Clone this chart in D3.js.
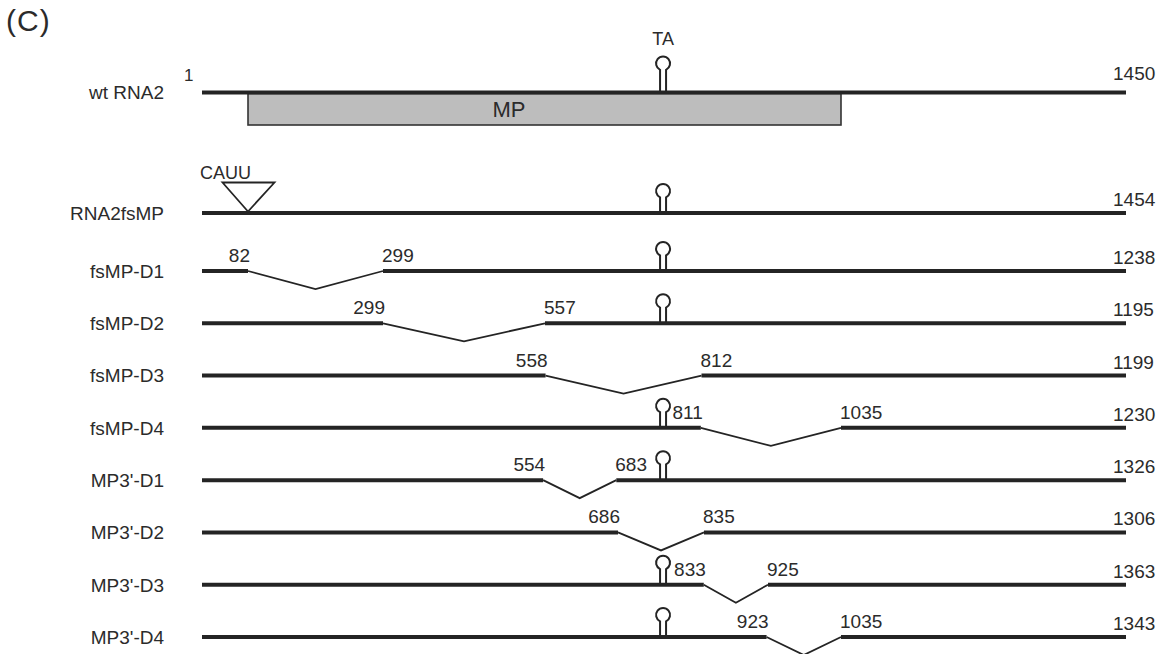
<!DOCTYPE html>
<html>
<head>
<meta charset="utf-8">
<script src="https://cdn.jsdelivr.net/npm/d3@7"></script>
<style>
  html, body { margin: 0; padding: 0; background: #fff; }
  svg { display: block; }
  text { font-family: "Liberation Sans", Arial, Helvetica, sans-serif; fill: #2b2b2b; }
</style>
</head>
<body>
<svg id="chart" width="1168" height="654"></svg>
<script>
// ---------------- data ----------------
const constructs = ["wt RNA2", "RNA2fsMP", "fsMP-D1", "fsMP-D2", "fsMP-D3", "fsMP-D4",
                    "MP3'-D1", "MP3'-D2", "MP3'-D3", "MP3'-D4"];
const lengths    = [1450, 1454, 1238, 1195, 1199, 1230, 1326, 1306, 1363, 1343];
const delStart   = [null, null, 82, 299, 558, 811, 554, 686, 833, 923];
const delEnd     = [null, null, 299, 557, 812, 1035, 683, 835, 925, 1035];
const hasStemLoop = [true, true, true, true, false, true, true, false, true, true];
const stemLoopPos = 754;          // TA stem-loop position (nt)
const mpOrf = [82, 1035];         // MP open reading frame
const insertPos = 82;             // CAUU insertion in RNA2fsMP
const insertSeq = "CAUU";
const firstNt = 1;
const trackEndNt = 1497;          // all tracks drawn to the same right end
// the schematic is not drawn strictly to scale: anchor points of the map
const mapNt = [1, 82, 299, 557, 686, 812, 835, 925, 1035, 1497];

// ---------------- layout ----------------
const svg = d3.select("#chart");
const x = d3.scaleLinear()
  .domain(mapNt)
  .range([202, 248, 383, 545, 618, 701.5, 704, 768, 841, 1126]);

const yTop = { "wt RNA2": 92.5, "RNA2fsMP": 213 };
const yRows = d3.scalePoint().domain(constructs.slice(2)).range([271, 637]);
const y = name => (name in yTop ? yTop[name] : yRows(name));

const lineColor = "#242424";
const numFont = 19;

// panel letter
svg.append("text").attr("x", 6).attr("y", 31)
  .style("font-size", "30px").style("letter-spacing", "1px").text("(C)");

// MP box (wt only)
svg.append("rect")
  .attr("x", x(mpOrf[0])).attr("y", y("wt RNA2") + 1)
  .attr("width", x(mpOrf[1]) - x(mpOrf[0])).attr("height", 31.5)
  .attr("fill", "#bdbdbd").attr("stroke", "#333").attr("stroke-width", 1.6);
svg.append("text").attr("x", 509).attr("y", 117)
  .attr("text-anchor", "middle").style("font-size", "22px").text("MP");

// rows
const rows = constructs.map((name, i) => ({
  name, len: lengths[i], ds: delStart[i], de: delEnd[i], sl: hasStemLoop[i], i
}));

const g = svg.selectAll("g.row").data(rows).join("g").attr("class", "row");

// left labels
g.append("text")
  .attr("x", 164).attr("y", d => y(d.name) + 6.8)
  .attr("text-anchor", "end").style("font-size", "19px")
  .text(d => d.name);

// right length labels
g.append("text")
  .attr("x", 1113).attr("y", d => y(d.name) - (d.i === 0 ? 13 : 7))
  .style("font-size", numFont + "px")
  .text(d => d.len);

// stem loops
g.filter(d => d.sl).each(function(d) {
  const yy = y(d.name);
  const big = d.i === 0;
  const cy = yy - (big ? 29 : 22);
  const r = 7, dx = 3;
  const yb = cy + Math.sqrt(r * r - dx * dx);
  const sx = x(stemLoopPos);
  d3.select(this).append("path")
    .attr("d", `M${sx - dx},${yy} L${sx - dx},${yb} A${r},${r} 0 1 1 ${sx + dx},${yb} L${sx + dx},${yy}`)
    .attr("fill", "#fff").attr("stroke", lineColor).attr("stroke-width", 2);
});

// tracks
g.each(function(d) {
  const sel = d3.select(this);
  const yy = y(d.name);
  if (d.ds == null) {
    sel.append("line")
      .attr("x1", x(firstNt)).attr("x2", x(trackEndNt))
      .attr("y1", yy).attr("y2", yy)
      .attr("stroke", lineColor).attr("stroke-width", 4);
  } else {
    sel.append("line")
      .attr("x1", x(firstNt)).attr("x2", x(d.ds))
      .attr("y1", yy).attr("y2", yy)
      .attr("stroke", lineColor).attr("stroke-width", 4);
    sel.append("line")
      .attr("x1", x(d.de)).attr("x2", x(trackEndNt))
      .attr("y1", yy).attr("y2", yy)
      .attr("stroke", lineColor).attr("stroke-width", 4);
    const xm = (x(d.ds) + x(d.de)) / 2;
    sel.append("path")
      .attr("d", `M${x(d.ds)},${yy} L${xm},${yy + 18} L${x(d.de)},${yy}`)
      .attr("fill", "none").attr("stroke", lineColor).attr("stroke-width", 1.8)
      .attr("stroke-linejoin", "miter");
    sel.append("text")
      .attr("x", x(d.ds) + 2).attr("y", yy - 9)
      .attr("text-anchor", "end").style("font-size", numFont + "px")
      .text(d.ds);
    sel.append("text")
      .attr("x", x(d.de) - 1).attr("y", yy - 9)
      .style("font-size", numFont + "px")
      .text(d.de);
  }
});

// "1" start label on wt
svg.append("text").attr("x", 184).attr("y", 81)
  .style("font-size", "17px").text(firstNt);

// TA label
svg.append("text").attr("x", x(stemLoopPos)).attr("y", 45)
  .attr("text-anchor", "middle").style("font-size", "18px").text("TA");

// CAUU insertion triangle
const yi = y("RNA2fsMP");
const xi = x(insertPos);
svg.append("path")
  .attr("d", `M${xi},${yi - 1.5} L${xi - 25.5},${yi - 30.5} L${xi + 26.5},${yi - 30.5} Z`)
  .attr("fill", "#fff").attr("stroke", lineColor).attr("stroke-width", 1.8)
  .attr("stroke-linejoin", "miter");
svg.append("text").attr("x", 200).attr("y", 179)
  .style("font-size", "18px").text(insertSeq);
</script>
</body>
</html>
